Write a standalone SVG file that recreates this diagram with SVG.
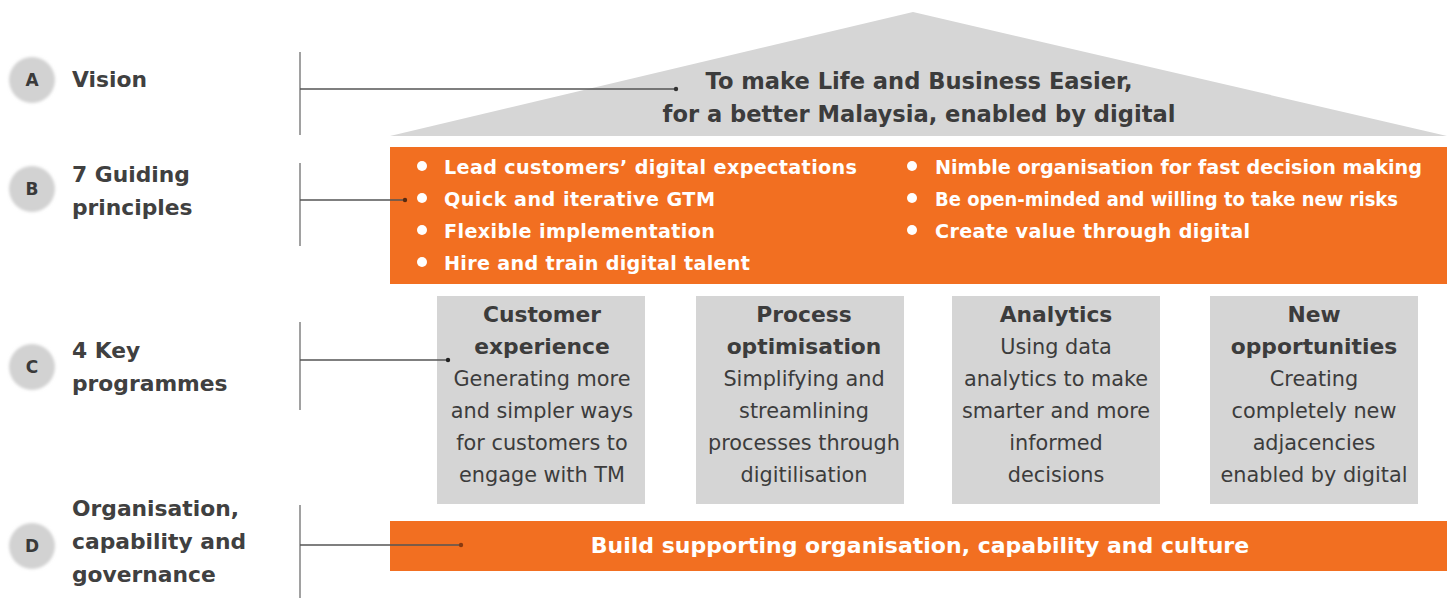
<svg xmlns="http://www.w3.org/2000/svg" width="1447" height="600" viewBox="0 0 1447 600">
<defs>
<filter id="soft" x="-30%" y="-30%" width="160%" height="160%"><feGaussianBlur stdDeviation="1.5"/></filter>
<style>
.lbl{font-family:"DejaVu Sans",sans-serif;font-weight:700;font-size:21.8px;fill:#404040}
.circ{fill:#d2d2d2}
.let{font-family:"DejaVu Sans",sans-serif;font-weight:700;font-size:17px;fill:#3a3a3a;text-anchor:middle}
.vis{font-family:"DejaVu Sans",sans-serif;font-weight:700;font-size:22.6px;fill:#3c3c3c;text-anchor:middle}
.bul{font-family:"DejaVu Sans",sans-serif;font-weight:700;font-size:19.2px;fill:#ffffff}
.dot{fill:#ffffff}
.box{fill:#d5d5d5}
.ttl{font-family:"DejaVu Sans",sans-serif;font-weight:700;font-size:21.8px;fill:#3c3c3c;text-anchor:middle}
.txt{font-family:"DejaVu Sans",sans-serif;font-size:20.8px;fill:#3c3c3c;text-anchor:middle}
.orange{fill:#f26f21}
.conn{stroke:#555555;stroke-width:1.6;fill:none}
.vline{stroke:#8a8a8a;stroke-width:1.6}
</style>
</defs>
<rect width="1447" height="600" fill="#ffffff"/>

<g id="roof">
<polygon points="390,136 913,12 1447,136" fill="#d6d6d6"/>
<text class="vis" x="919" y="89">To make Life and Business Easier,</text>
<text class="vis" x="919" y="122">for a better Malaysia, enabled by digital</text>
</g>

<g id="labelA">
<circle class="circ" cx="32" cy="80" r="23" filter="url(#soft)"/>
<text class="let" x="32" y="86">A</text>
<text class="lbl" x="72" y="87">Vision</text>
</g>
<g id="labelB">
<circle class="circ" cx="32" cy="189" r="23" filter="url(#soft)"/>
<text class="let" x="32" y="195">B</text>
<text class="lbl" x="72" y="182">7 Guiding</text>
<text class="lbl" x="72" y="215">principles</text>
</g>
<g id="labelC">
<circle class="circ" cx="32" cy="367" r="23" filter="url(#soft)"/>
<text class="let" x="32" y="373">C</text>
<text class="lbl" x="72" y="358">4 Key</text>
<text class="lbl" x="72" y="391">programmes</text>
</g>
<g id="labelD">
<circle class="circ" cx="32" cy="546" r="23" filter="url(#soft)"/>
<text class="let" x="32" y="552">D</text>
<text class="lbl" x="72" y="516">Organisation,</text>
<text class="lbl" x="72" y="549">capability and</text>
<text class="lbl" x="72" y="582">governance</text>
</g>

<g id="principles">
<rect class="orange" x="390" y="147" width="1057" height="137"/>
<circle class="dot" cx="422" cy="166" r="5"/>
<circle class="dot" cx="422" cy="198" r="5"/>
<circle class="dot" cx="422" cy="230" r="5"/>
<circle class="dot" cx="422" cy="262" r="5"/>
<text class="bul" x="444" y="174" textLength="413" lengthAdjust="spacing">Lead customers’ digital expectations</text>
<text class="bul" x="444" y="206" textLength="271" lengthAdjust="spacing">Quick and iterative GTM</text>
<text class="bul" x="444" y="238" textLength="271" lengthAdjust="spacing">Flexible implementation</text>
<text class="bul" x="444" y="270" textLength="306" lengthAdjust="spacing">Hire and train digital talent</text>
<circle class="dot" cx="912" cy="166" r="5"/>
<circle class="dot" cx="912" cy="198" r="5"/>
<circle class="dot" cx="912" cy="230" r="5"/>
<text class="bul" x="935" y="174" textLength="487" lengthAdjust="spacing">Nimble organisation for fast decision making</text>
<text class="bul" x="935" y="206" textLength="463" lengthAdjust="spacingAndGlyphs">Be open-minded and willing to take new risks</text>
<text class="bul" x="935" y="238" textLength="315" lengthAdjust="spacing">Create value through digital</text>
</g>

<g id="prog1">
<rect class="box" x="437" y="296" width="208" height="208"/>
<text class="ttl" x="542" y="322">Customer</text>
<text class="ttl" x="542" y="354">experience</text>
<text class="txt" x="542" y="386">Generating more</text>
<text class="txt" x="542" y="418">and simpler ways</text>
<text class="txt" x="542" y="450">for customers to</text>
<text class="txt" x="542" y="482">engage with TM</text>
</g>
<g id="prog2">
<rect class="box" x="696" y="296" width="208" height="208"/>
<text class="ttl" x="804" y="322">Process</text>
<text class="ttl" x="804" y="354">optimisation</text>
<text class="txt" x="804" y="386">Simplifying and</text>
<text class="txt" x="804" y="418">streamlining</text>
<text class="txt" x="804" y="450">processes through</text>
<text class="txt" x="804" y="482">digitilisation</text>
</g>
<g id="prog3">
<rect class="box" x="952" y="296" width="208" height="208"/>
<text class="ttl" x="1056" y="322">Analytics</text>
<text class="txt" x="1056" y="354">Using data</text>
<text class="txt" x="1056" y="386">analytics to make</text>
<text class="txt" x="1056" y="418">smarter and more</text>
<text class="txt" x="1056" y="450">informed</text>
<text class="txt" x="1056" y="482">decisions</text>
</g>
<g id="prog4">
<rect class="box" x="1210" y="296" width="208" height="208"/>
<text class="ttl" x="1314" y="322">New</text>
<text class="ttl" x="1314" y="354">opportunities</text>
<text class="txt" x="1314" y="386">Creating</text>
<text class="txt" x="1314" y="418">completely new</text>
<text class="txt" x="1314" y="450">adjacencies</text>
<text class="txt" x="1314" y="482">enabled by digital</text>
</g>

<g id="foundation">
<rect class="orange" x="390" y="521" width="1057" height="50"/>
<text class="vis" x="920" y="553" style="fill:#ffffff;font-size:22px">Build supporting organisation, capability and culture</text>
</g>

<g id="connectors">
<line class="vline" x1="300" y1="52" x2="300" y2="135"/>
<line class="vline" x1="300" y1="163" x2="300" y2="246"/>
<line class="vline" x1="300" y1="322" x2="300" y2="410"/>
<line class="vline" x1="300" y1="505" x2="300" y2="598"/>
<line class="conn" x1="300" y1="89" x2="676" y2="89"/>
<circle cx="676" cy="89" r="2.2" fill="#333"/>
<line class="conn" x1="300" y1="200" x2="405" y2="200"/>
<circle cx="405" cy="200" r="2.2" fill="#5a2a10"/>
<line class="conn" x1="300" y1="360" x2="448" y2="360"/>
<circle cx="448" cy="360" r="2.2" fill="#222"/>
<line class="conn" x1="300" y1="545" x2="461" y2="545"/>
<circle cx="461" cy="545" r="2.2" fill="#8a3a10"/>
</g>
</svg>
